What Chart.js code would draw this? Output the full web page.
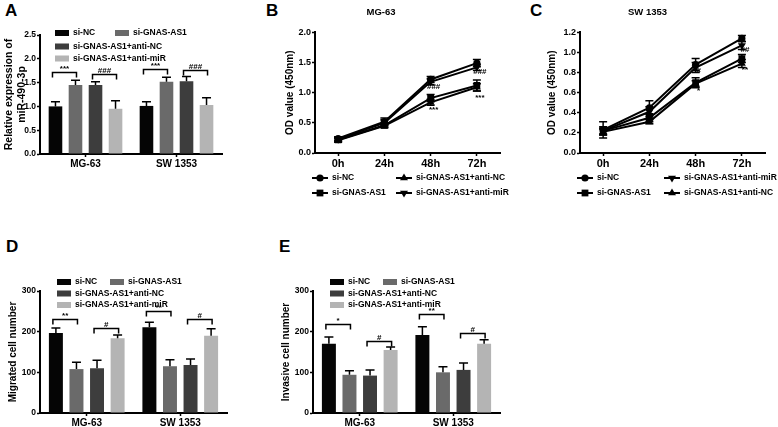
<!DOCTYPE html>
<html>
<head>
<meta charset="utf-8">
<script src="https://cdn.jsdelivr.net/npm/chart.js@4.4.1/dist/chart.umd.min.js"></script>
<style>
  html, body { margin: 0; padding: 0; background: #fff; }
  body { width: 778px; height: 427px; position: relative; overflow: hidden; font-family: "Liberation Sans", Arial, sans-serif; }
  canvas { position: absolute; }
  .tag { position: absolute; font-weight: bold; font-size: 17px; line-height: 17px; color: #000; }
</style>
</head>
<body>
<div class="tag" style="left:5px;top:2px">A</div>
<div class="tag" style="left:266px;top:2px">B</div>
<div class="tag" style="left:530px;top:2px">C</div>
<div class="tag" style="left:6px;top:238px">D</div>
<div class="tag" style="left:279px;top:238px">E</div>

<canvas id="chartA" width="260" height="175" style="left:0;top:0"></canvas>
<canvas id="chartB" width="280" height="205" style="left:262px;top:0"></canvas>
<canvas id="chartC" width="280" height="205" style="left:530px;top:0"></canvas>
<canvas id="chartD" width="250" height="212" style="left:0;top:215px"></canvas>
<canvas id="chartE" width="250" height="212" style="left:273px;top:215px"></canvas>

<script>
// ---------- data ----------
const groupLabels = ["si-NC", "si-GNAS-AS1", "si-GNAS-AS1+anti-NC", "si-GNAS-AS1+anti-miR"];
const cellLines = ["MG-63", "SW 1353"];
const timePoints = ["0h", "24h", "48h", "72h"];

// A: relative miR-490-3p expression  [MG-63, SW 1353]
const exprNC = [1.00, 1.01];
const exprSi = [1.45, 1.52];
const exprAntiNC = [1.45, 1.53];
const exprAntiMiR = [0.95, 1.03];
const exprNCErr = [0.10, 0.09];
const exprSiErr = [0.10, 0.09];
const exprAntiNCErr = [0.07, 0.10];
const exprAntiMiRErr = [0.17, 0.15];

// B: CCK-8, MG-63
const odMgNC = [0.24, 0.52, 1.22, 1.49];
const odMgSi = [0.22, 0.46, 0.91, 1.12];
const odMgAntiNC = [0.21, 0.45, 0.84, 1.09];
const odMgAntiMiR = [0.23, 0.50, 1.18, 1.42];
const odMgNCErr = [0.03, 0.06, 0.05, 0.06];
const odMgSiErr = [0.03, 0.03, 0.06, 0.09];
const odMgAntiNCErr = [0.03, 0.03, 0.05, 0.06];
const odMgAntiMiRErr = [0.03, 0.05, 0.05, 0.05];

// C: CCK-8, SW 1353
const odSwNC = [0.23, 0.45, 0.88, 1.14];
const odSwSi = [0.22, 0.35, 0.70, 0.94];
const odSwAntiNC = [0.21, 0.31, 0.69, 0.89];
const odSwAntiMiR = [0.22, 0.41, 0.85, 1.07];
const odSwNCErr = [0.08, 0.07, 0.06, 0.03];
const odSwSiErr = [0.03, 0.04, 0.05, 0.04];
const odSwAntiNCErr = [0.03, 0.02, 0.03, 0.04];
const odSwAntiMiRErr = [0.04, 0.05, 0.05, 0.04];

// D: migrated cells  [MG-63, SW 1353]
const migNC = [197, 211];
const migSi = [108, 115];
const migAntiNC = [110, 118];
const migAntiMiR = [184, 190];
const migNCErr = [12, 12];
const migSiErr = [17, 16];
const migAntiNCErr = [20, 15];
const migAntiMiRErr = [8, 17];

// E: invasive cells  [MG-63, SW 1353]
const invNC = [170, 192];
const invSi = [94, 100];
const invAntiNC = [92, 106];
const invAntiMiR = [155, 170];
const invNCErr = [17, 20];
const invSiErr = [10, 14];
const invAntiNCErr = [14, 17];
const invAntiMiRErr = [7, 10];

// significance brackets: [cell line index, dataset from, dataset to, level, text]
const bracketsA = [[0, 0, 1, 1.72, "***"], [0, 2, 3, 1.68, "###"], [1, 0, 1, 1.78, "***"], [1, 2, 3, 1.76, "###"]];
const bracketsD = [[0, 0, 1, 232, "**"], [0, 2, 3, 208, "#"], [1, 0, 1, 250, "**"], [1, 2, 3, 230, "#"]];
const bracketsE = [[0, 0, 1, 218, "*"], [0, 2, 3, 178, "#"], [1, 0, 1, 243, "**"], [1, 2, 3, 196, "#"]];

// marks next to the curves: [time point, level, text]
const notesB = [["48h", 1.09, "###"], ["48h", 0.72, "***"], ["72h", 1.34, "###"], ["72h", 0.92, "***"]];
const notesC = [["48h", 0.82, "#"], ["48h", 0.62, "*"], ["72h", 1.03, "##"], ["72h", 0.83, "**"]];

// ---------- look ----------
const FONT = "'Liberation Sans', Arial, Helvetica, sans-serif";
Chart.defaults.font.family = FONT;
Chart.defaults.font.weight = "bold";
Chart.defaults.color = "#000";
Chart.defaults.animation = false;

const barColors = ["#050505", "#6a6a6a", "#3d3d3d", "#b4b4b4"];
const markers = [["circle", 0, 3.6], ["rect", 0, 4.8], ["triangle", 0, 4.6], ["triangle", 180, 4.6]];

function drawMarker(ctx, style, rot, x, y, r) {
  ctx.beginPath();
  if (style === "circle") {
    ctx.arc(x, y, r, 0, Math.PI * 2);
  } else if (style === "rect") {
    const s = r * Math.SQRT1_2;
    ctx.rect(x - s, y - s, 2 * s, 2 * s);
  } else {
    let a = rot * Math.PI / 180;
    ctx.moveTo(x + Math.sin(a) * r, y - Math.cos(a) * r);
    a += 2 * Math.PI / 3;
    ctx.lineTo(x + Math.sin(a) * r, y - Math.cos(a) * r);
    a += 2 * Math.PI / 3;
    ctx.lineTo(x + Math.sin(a) * r, y - Math.cos(a) * r);
    ctx.closePath();
  }
  ctx.fill();
}

// error bars (up only on bars, both ways on curves)
const errorBars = {
  id: "errorBars",
  afterDatasetsDraw(chart, args, o) {
    const ctx = chart.ctx, ys = chart.scales.y;
    ctx.save();
    ctx.strokeStyle = "#000";
    ctx.lineWidth = o.width;
    chart.data.datasets.forEach((ds, i) => {
      chart.getDatasetMeta(i).data.forEach((el, j) => {
        const v = ds.data[j], e = ds.errors[j];
        const top = ys.getPixelForValue(v + e);
        const bot = o.upOnly ? el.y : ys.getPixelForValue(v - e);
        ctx.beginPath();
        ctx.moveTo(el.x, bot);
        ctx.lineTo(el.x, top);
        ctx.moveTo(el.x - o.cap, top);
        ctx.lineTo(el.x + o.cap, top);
        if (!o.upOnly) {
          ctx.moveTo(el.x - o.cap, bot);
          ctx.lineTo(el.x + o.cap, bot);
        }
        ctx.stroke();
      });
    });
    ctx.restore();
  }
};

const brackets = {
  id: "brackets",
  afterDatasetsDraw(chart, args, o) {
    const ctx = chart.ctx, ys = chart.scales.y;
    ctx.save();
    ctx.strokeStyle = "#000";
    ctx.fillStyle = "#000";
    ctx.lineWidth = 1.5;
    ctx.font = "bold 8px " + FONT;
    ctx.textAlign = "center";
    ctx.textBaseline = "alphabetic";
    o.items.forEach(([g, a, b, level, txt]) => {
      const x1 = chart.getDatasetMeta(a).data[g].x - 3;
      const x2 = chart.getDatasetMeta(b).data[g].x + 1;
      const py = Math.round(ys.getPixelForValue(level)) + 0.5;
      ctx.beginPath();
      ctx.moveTo(x1, py + 5);
      ctx.lineTo(x1, py);
      ctx.lineTo(x2, py);
      ctx.lineTo(x2, py + 5);
      ctx.stroke();
      ctx.fillText(txt, (x1 + x2) / 2, py - 2);
    });
    ctx.restore();
  }
};

const notes = {
  id: "notes",
  afterDatasetsDraw(chart, args, o) {
    const ctx = chart.ctx, xs = chart.scales.x, ys = chart.scales.y;
    ctx.save();
    ctx.fillStyle = "#000";
    ctx.font = "bold 8px " + FONT;
    ctx.textAlign = "center";
    ctx.textBaseline = "middle";
    o.items.forEach(([t, level, txt]) => {
      ctx.fillText(txt, xs.getPixelForValue(timePoints.indexOf(t)) + 3, ys.getPixelForValue(level));
    });
    ctx.restore();
  }
};

// legend drawn at given offsets from the plot area
const keyLegend = {
  id: "keyLegend",
  afterDraw(chart, args, o) {
    const ctx = chart.ctx, ca = chart.chartArea;
    ctx.save();
    ctx.font = "bold 8.5px " + FONT;
    ctx.textBaseline = "middle";
    o.items.forEach(([i, dx, dy]) => {
      const ds = chart.data.datasets[i];
      const x = ca.left + dx;
      const y = (o.below ? ca.bottom : ca.top) + dy;
      if (o.kind === "box") {
        ctx.fillStyle = ds.backgroundColor;
        ctx.fillRect(x, y - 3, 14, 6);
      } else {
        ctx.strokeStyle = "#000";
        ctx.fillStyle = "#000";
        ctx.lineWidth = 2;
        ctx.beginPath();
        ctx.moveTo(x, y);
        ctx.lineTo(x + 16, y);
        ctx.stroke();
        drawMarker(ctx, ds.pointStyle, ds.rotation, x + 8, y, ds.pointRadius);
      }
      ctx.fillStyle = "#000";
      ctx.fillText(ds.label, x + o.gap, y);
    });
    ctx.restore();
  }
};

function yAxis(max, step, title, width, titlePad, digits, titleSize, tickSize) {
  return {
    min: 0, max: max,
    ticks: { stepSize: step, padding: 1, font: { size: tickSize, weight: "bold" },
             callback: v => v.toFixed(digits) },
    grid: { drawOnChartArea: false, drawTicks: true, tickLength: 3, tickColor: "#000", tickWidth: 1.5 },
    border: { color: "#000", width: 2 },
    title: { display: true, text: title, font: { size: titleSize, weight: "bold" }, padding: { top: titlePad, bottom: 0 } },
    afterFit(s) { s.width = width; }
  };
}

function xAxis(height, size) {
  return {
    offset: true,
    ticks: { padding: 1, autoSkip: false, maxRotation: 0, font: { size: size, weight: "bold" } },
    grid: { offset: false, drawOnChartArea: false, drawTicks: true, tickLength: 3, tickColor: "#000", tickWidth: 1.5 },
    border: { color: "#000", width: 2 },
    afterFit(s) { s.height = height; }
  };
}

function barChart(id, series, errs, yMax, yStep, yTitle, bracketItems, legendItems, pad, xh, titlePad, digits, titleSize) {
  return new Chart(document.getElementById(id), {
    type: "bar",
    data: {
      labels: cellLines,
      datasets: series.map((s, i) => ({
        label: groupLabels[i], data: s, errors: errs[i],
        backgroundColor: barColors[i], borderWidth: 0,
        barPercentage: 0.68, categoryPercentage: 0.88
      }))
    },
    options: {
      responsive: false, animation: false, devicePixelRatio: 1, events: [],
      layout: { padding: pad },
      scales: { x: xAxis(xh, 10), y: yAxis(yMax, yStep, yTitle, 40, titlePad, digits, titleSize, 8.5) },
      plugins: {
        legend: { display: false }, tooltip: { enabled: false },
        errorBars: { upOnly: true, cap: 4.5, width: 1.5 },
        brackets: { items: bracketItems },
        keyLegend: { kind: "box", below: false, gap: 18, items: legendItems }
      }
    },
    plugins: [errorBars, brackets, keyLegend]
  });
}

function lineChart(id, title, series, errs, yMax, yStep, noteItems, legendItems, pad, titlePad) {
  return new Chart(document.getElementById(id), {
    type: "line",
    data: {
      labels: timePoints,
      datasets: series.map((s, i) => ({
        label: groupLabels[i], data: s, errors: errs[i],
        borderColor: "#000", backgroundColor: "#000", borderWidth: 2,
        pointStyle: markers[i][0], rotation: markers[i][1], pointRadius: markers[i][2],
        pointBorderWidth: 0, fill: false, tension: 0
      }))
    },
    options: {
      responsive: false, animation: false, devicePixelRatio: 1, events: [],
      layout: { padding: pad },
      scales: { x: xAxis(20, 11), y: yAxis(yMax, yStep, "OD value (450nm)", pad.yw, titlePad, 1, 10, 9) },
      plugins: {
        legend: { display: false }, tooltip: { enabled: false },
        title: { display: true, text: title, font: { size: 9.5, weight: "bold" }, color: "#000", padding: { top: 7, bottom: 14 } },
        errorBars: { upOnly: false, cap: 4, width: 1.5 },
        notes: { items: noteItems },
        keyLegend: { kind: "line", below: true, gap: 20, items: legendItems }
      }
    },
    plugins: [errorBars, notes, keyLegend]
  });
}

// A
barChart("chartA",
  [exprNC, exprSi, exprAntiNC, exprAntiMiR],
  [exprNCErr, exprSiErr, exprAntiNCErr, exprAntiMiRErr],
  2.5, 0.5, ["Relative expression of", "miR-490-3p"], bracketsA,
  [[0, 15, -2], [1, 75, -2], [2, 15, 11.5], [3, 15, 23.5]],
  { top: 35, right: 38, bottom: 0, left: 0 }, 21, 3, 1, 10.5);

// B
lineChart("chartB", "MG-63",
  [odMgNC, odMgSi, odMgAntiNC, odMgAntiMiR],
  [odMgNCErr, odMgSiErr, odMgAntiNCErr, odMgAntiMiRErr],
  2.0, 0.5, notesB,
  [[0, -3, 25], [2, 81, 25], [1, -3, 40], [3, 81, 40]],
  { top: 0, right: 42, bottom: 32, left: 0, yw: 53 }, 22);

// C
lineChart("chartC", "SW 1353",
  [odSwNC, odSwSi, odSwAntiNC, odSwAntiMiR],
  [odSwNCErr, odSwSiErr, odSwAntiNCErr, odSwAntiMiRErr],
  1.2, 0.2, notesC,
  [[0, -3, 25], [3, 84, 25], [1, -3, 40], [2, 84, 40]],
  { top: 0, right: 45, bottom: 32, left: 0, yw: 50 }, 16);

// D
barChart("chartD",
  [migNC, migSi, migAntiNC, migAntiMiR],
  [migNCErr, migSiErr, migAntiNCErr, migAntiMiRErr],
  300, 100, "Migrated cell number", bracketsD,
  [[0, 17, -9], [1, 70, -9], [2, 17, 2.5], [3, 17, 14]],
  { top: 76, right: 23, bottom: 0, left: 0 }, 14, 7, 0, 10);

// E
barChart("chartE",
  [invNC, invSi, invAntiNC, invAntiMiR],
  [invNCErr, invSiErr, invAntiNCErr, invAntiMiRErr],
  300, 100, "Invasive cell number", bracketsE,
  [[0, 17, -9], [1, 70, -9], [2, 17, 2.5], [3, 17, 14]],
  { top: 76, right: 23, bottom: 0, left: 0 }, 14, 7, 0, 10);
</script>
</body>
</html>
